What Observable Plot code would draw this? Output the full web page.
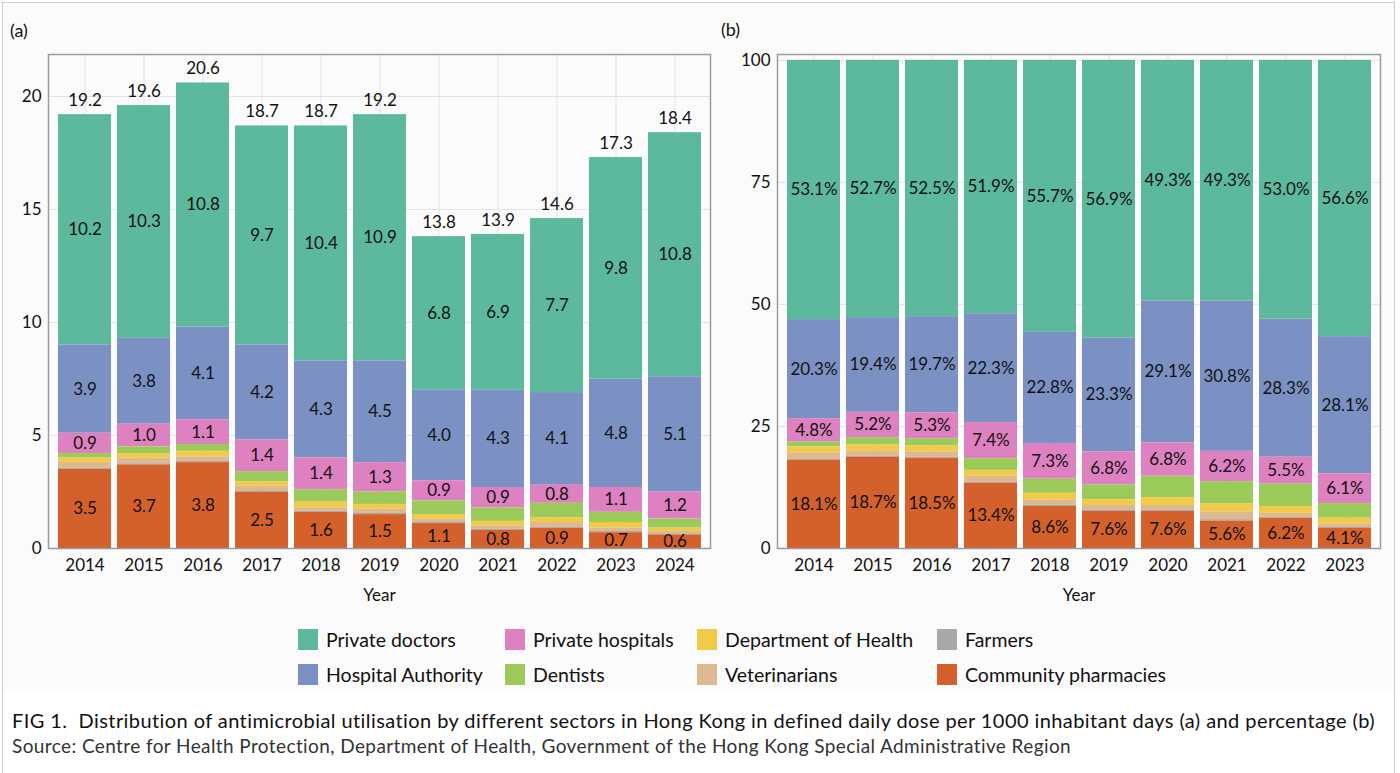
<!DOCTYPE html>
<html>
<head>
<meta charset="utf-8">
<script src="https://cdn.jsdelivr.net/npm/d3@7"></script>
<script src="https://cdn.jsdelivr.net/npm/@observablehq/plot@0.6"></script>
<style>
  html, body { margin: 0; padding: 0; background: #fff; }
  #fig { position: relative; width: 1400px; height: 773px; font-family: Lato, "Open Sans", sans-serif; color: #111; overflow: hidden; }
  #border { position: absolute; left: 2px; top: 2px; width: 1393px; height: 780px; border: 1px solid #cfcfcf; box-sizing: border-box; }
  #chartArea { position: absolute; left: 3px; top: 3px; width: 1391px; height: 688px; background: #fbfbfb; }
  .panel { position: absolute; top: 0; }
  .tag { position: absolute; font-size: 18px; }
  #legend { position: absolute; left: 0; top: 0; }
  .item { position: absolute; display: flex; align-items: center; font-size: 19.5px; white-space: nowrap; height: 22px; }
  .sw { width: 20px; height: 21px; margin-right: 8px; }
  #caption { position: absolute; left: 12px; top: 708px; font-size: 20px; letter-spacing: 0.42px; white-space: nowrap; }
  #source { position: absolute; left: 12px; top: 734px; font-size: 19px; letter-spacing: 0.4px; color: #333; white-space: nowrap; }
</style>
</head>
<body>
<div id="fig">
  <div id="chartArea"></div>
  <div id="border"></div>
  <div class="tag" style="left:10px; top:19px;">(a)</div>
  <div class="tag" style="left:721px; top:18px;">(b)</div>
  <div id="panelA" class="panel" style="left:0px;"></div>
  <div id="panelB" class="panel" style="left:720px;"></div>
  <div id="legend"></div>
  <div id="caption">FIG 1.&nbsp; Distribution of antimicrobial utilisation by different sectors in Hong Kong in defined daily dose per 1000 inhabitant days (a) and percentage (b)</div>
  <div id="source">Source: Centre for Health Protection, Department of Health, Government of the Hong Kong Special Administrative Region</div>
</div>
<script>
// Sectors, listed top of stack first (also legend order, column by column)
const sectors = ["Private doctors", "Hospital Authority", "Private hospitals", "Dentists",
  "Department of Health", "Veterinarians", "Farmers", "Community pharmacies"];
const sectorColors = ["#5db99d", "#7c91c3", "#de81c0", "#9bca5a", "#f2ca47", "#dcb98f", "#a8a8a8", "#d4612b"];
// Sectors whose segments carry a value label
const labelledSectors = ["Private doctors", "Hospital Authority", "Private hospitals", "Community pharmacies"];

// (a) Defined daily dose per 1000 inhabitant days
const yearsA = ["2014", "2015", "2016", "2017", "2018", "2019", "2020", "2021", "2022", "2023", "2024"];
const dddPrivateDoctors = [10.2, 10.3, 10.8, 9.7, 10.4, 10.9, 6.8, 6.9, 7.7, 9.8, 10.8];
const dddHospitalAuthority = [3.9, 3.8, 4.1, 4.2, 4.3, 4.5, 4.0, 4.3, 4.1, 4.8, 5.1];
const dddPrivateHospitals = [0.9, 1.0, 1.1, 1.4, 1.4, 1.3, 0.9, 0.9, 0.8, 1.1, 1.2];
const dddDentists = [0.2, 0.3, 0.3, 0.45, 0.55, 0.55, 0.6, 0.6, 0.65, 0.45, 0.4];
const dddDepartmentOfHealth = [0.2, 0.2, 0.25, 0.2, 0.25, 0.2, 0.2, 0.2, 0.2, 0.25, 0.15];
const dddVeterinarians = [0.25, 0.25, 0.2, 0.2, 0.15, 0.2, 0.15, 0.15, 0.2, 0.15, 0.1];
const dddFarmers = [0.05, 0.05, 0.05, 0.05, 0.05, 0.05, 0.05, 0.05, 0.05, 0.05, 0.05];
const dddCommunityPharmacies = [3.5, 3.7, 3.8, 2.5, 1.6, 1.5, 1.1, 0.8, 0.9, 0.7, 0.6];
const dddTotals = [19.2, 19.6, 20.6, 18.7, 18.7, 19.2, 13.8, 13.9, 14.6, 17.3, 18.4];
const ticksA = [0, 5, 10, 15, 20];

// (b) Percentage of total utilisation
const yearsB = ["2014", "2015", "2016", "2017", "2018", "2019", "2020", "2021", "2022", "2023"];
const pctPrivateDoctors = [53.1, 52.7, 52.5, 51.9, 55.7, 56.9, 49.3, 49.3, 53.0, 56.6];
const pctHospitalAuthority = [20.3, 19.4, 19.7, 22.3, 22.8, 23.3, 29.1, 30.8, 28.3, 28.1];
const pctPrivateHospitals = [4.8, 5.2, 5.3, 7.4, 7.3, 6.8, 6.8, 6.2, 5.5, 6.1];
const pctDentists = [1.0, 1.5, 1.5, 2.4, 2.9, 3.0, 4.4, 4.6, 4.6, 3.0];
const pctDepartmentOfHealth = [1.2, 1.3, 1.2, 1.2, 1.4, 1.2, 1.6, 1.6, 1.4, 1.2];
const pctVeterinarians = [1.3, 1.0, 1.1, 1.2, 1.0, 0.9, 0.9, 1.6, 0.8, 0.7];
const pctFarmers = [0.2, 0.2, 0.2, 0.2, 0.3, 0.3, 0.3, 0.3, 0.2, 0.2];
const pctCommunityPharmacies = [18.1, 18.7, 18.5, 13.4, 8.6, 7.6, 7.6, 5.6, 6.2, 4.1];
const ticksB = [0, 25, 50, 75, 100];

// Long-format tables built from the series above
function longTable(years, series) {
  const rows = [];
  years.forEach((year, i) => {
    sectors.forEach((sector, s) => rows.push({year, sector, value: series[s][i]}));
  });
  return rows;
}
const tableA = longTable(yearsA, [dddPrivateDoctors, dddHospitalAuthority, dddPrivateHospitals, dddDentists,
  dddDepartmentOfHealth, dddVeterinarians, dddFarmers, dddCommunityPharmacies]);
const tableB = longTable(yearsB, [pctPrivateDoctors, pctHospitalAuthority, pctPrivateHospitals, pctDentists,
  pctDepartmentOfHealth, pctVeterinarians, pctFarmers, pctCommunityPharmacies]);
const totalsA = yearsA.map((year, i) => ({year, total: dddTotals[i]}));

// Stack from the bottom: community pharmacies first, private doctors on top
const stackOrder = sectors.slice().reverse();
const fmt1 = d3.format(".1f");

function stackedPanel({table, years, yDomain, ticks, width, marginLeft, marginRight, labelFormat, totals}) {
  const stack = {x: "year", y: "value", z: "sector", order: stackOrder};
  const marks = [
    Plot.gridY(ticks, {stroke: "#e3e3e3", strokeOpacity: 1}),
    Plot.gridX({stroke: "#e3e3e3", strokeOpacity: 1}),
    Plot.barY(table, Plot.stackY({...stack, fill: "sector"})),
    Plot.text(table, Plot.stackY({...stack,
      text: d => labelledSectors.includes(d.sector) ? labelFormat(d.value) : "",
      fill: "#111", fontSize: 17})),
    Plot.axisY(ticks, {tickSize: 0, tickPadding: 7, fontSize: 17, label: null}),
    Plot.axisX({tickSize: 0, tickPadding: 10, fontSize: 17, label: "Year", labelAnchor: "center", labelArrow: "none", labelOffset: 52}),
    Plot.frame({stroke: "#9b9b9b", strokeWidth: 1.5})
  ];
  if (totals) {
    marks.push(Plot.text(totals, {x: "year", y: "total", text: d => fmt1(d.total), dy: -14, fill: "#111", fontSize: 17}));
  }
  return Plot.plot({
    width, height: 610,
    marginTop: 54, marginBottom: 62, marginLeft, marginRight,
    style: {fontFamily: "Lato, 'Open Sans', sans-serif", fontSize: "17px", color: "#111", background: "transparent", overflow: "visible"},
    x: {domain: years, padding: 0.11},
    y: {domain: yDomain},
    color: {domain: sectors, range: sectorColors},
    marks
  });
}

document.getElementById("panelA").append(stackedPanel({
  table: tableA, years: yearsA, yDomain: [0, 21.86], ticks: ticksA,
  width: 720, marginLeft: 48, marginRight: 10, labelFormat: fmt1, totals: totalsA
}));
document.getElementById("panelB").append(stackedPanel({
  table: tableB, years: yearsB, yDomain: [0, 101.2], ticks: ticksB,
  width: 680, marginLeft: 57, marginRight: 20, labelFormat: v => fmt1(v) + "%"
}));

// Legend: four columns of two rows, filled column by column
const legend = document.getElementById("legend");
const colX = [298, 505, 697, 937];
const rowY = [628, 663];
sectors.forEach((sector, i) => {
  const item = document.createElement("div");
  item.className = "item";
  item.style.left = colX[Math.floor(i / 2)] + "px";
  item.style.top = rowY[i % 2] + "px";
  const sw = document.createElement("div");
  sw.className = "sw";
  sw.style.background = sectorColors[i];
  const label = document.createElement("span");
  label.textContent = sector;
  item.append(sw, label);
  legend.append(item);
});
</script>
</body>
</html>
